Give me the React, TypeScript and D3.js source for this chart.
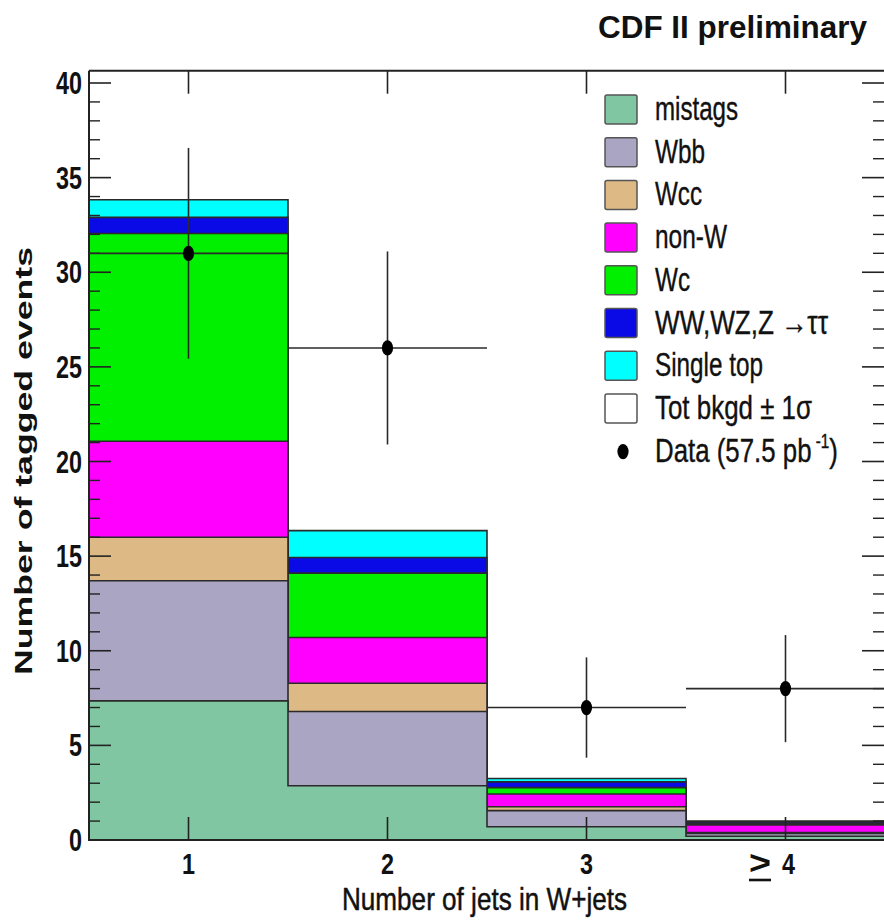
import React from 'react';
import * as d3 from 'd3';

// ---------- data ----------
const categories = ['1', '2', '3', '4'];
const mistags = [7.35, 2.87, 0.7, 0.2];
const wbb = [6.35, 3.92, 0.85, 0.15];
const wcc = [2.3, 1.49, 0.21, 0.05];
const nonW = [5.07, 2.42, 0.67, 0.4];
const wc = [10.98, 3.4, 0.34, 0.08];
const dibosons = [0.85, 0.83, 0.3, 0.08];
const singleTop = [0.93, 1.42, 0.18, 0.04];
const dataValues = [31, 26, 7, 8];
const dataErrors = [5.57, 5.1, 2.65, 2.83];
const yMajorTicks = [0, 5, 10, 15, 20, 25, 30, 35, 40];
const yMinorTicks = d3.range(0, 41).filter((v) => v % 5 !== 0);

const seriesKeys = ['mistags', 'Wbb', 'Wcc', 'nonW', 'Wc', 'diboson', 'singleTop'];
const seriesColors = ['#80c6a2', '#a9a5c2', '#ddb985', '#ff00ff', '#00f000', '#0a0ae6', '#00ffff'];
const legendLabels = ['mistags', 'Wbb', 'Wcc', 'non-W', 'Wc', 'WW,WZ,Z \u2192\u03c4\u03c4', 'Single top', 'Tot bkgd \u00b1 1\u03c3'];
const legendWidths = [83, 50, 47, 72, 35, 173, 108, 157];

const W = 884;
const H = 921;
const FONT = '"Liberation Sans", Arial, Helvetica, sans-serif';

export default function App() {
  const x = d3.scaleLinear().domain([0.5, 4.5]).range([89, 885]);
  const y = d3.scaleLinear().domain([0, 40.65]).range([840, 70.7]);

  const rows = categories.map((c, i) => ({
    cat: c,
    mistags: mistags[i],
    Wbb: wbb[i],
    Wcc: wcc[i],
    nonW: nonW[i],
    Wc: wc[i],
    diboson: dibosons[i],
    singleTop: singleTop[i],
  }));
  const stacked = d3.stack<any>().keys(seriesKeys)(rows);

  const area = d3
    .area<{ e: number; v: number }>()
    .x((d) => x(d.e))
    .y0(y(0))
    .y1((d) => y(d.v))
    .curve(d3.curveStepAfter);

  const layers = stacked.map((s, k) => {
    const tops = s.map((d) => d[1]);
    const pts = d3.range(0, 5).map((i) => ({ e: i + 0.5, v: tops[Math.min(i, 3)] }));
    return { key: seriesKeys[k], color: seriesColors[k], d: area(pts) as string };
  });

  const axisColor = '#222';
  const lineColor = '#2a2a2a';

  const boxTop = (i: number) => 95 + 42.7 * i;

  return (
    <svg width={W} height={H} style={{ position: 'absolute', left: 0, top: 0, background: '#fff' }}>
      <rect x={0} y={0} width={W} height={H} fill="#fff" />

      {/* stacked histograms, drawn largest first (ROOT THStack style) */}
      {layers
        .slice()
        .reverse()
        .map((l) => (
          <path key={l.key} d={l.d} fill={l.color} stroke={lineColor} strokeWidth={1.6} />
        ))}

      {/* frame */}
      <line x1={x(0.5)} x2={x(4.5)} y1={y(40.65)} y2={y(40.65)} stroke={axisColor} strokeWidth={2} />
      <line x1={x(0.5)} x2={x(0.5)} y1={y(40.65)} y2={y(0)} stroke={axisColor} strokeWidth={2} />
      <line x1={x(0.5)} x2={x(4.5)} y1={y(0)} y2={y(0)} stroke={axisColor} strokeWidth={2} />

      {/* y ticks */}
      {yMajorTicks.map((t) => (
        <g key={'M' + t}>
          <line x1={x(0.5)} x2={x(0.5) + 22} y1={y(t)} y2={y(t)} stroke={axisColor} strokeWidth={1.6} />
          <line x1={884} x2={884 - 22} y1={y(t)} y2={y(t)} stroke={axisColor} strokeWidth={1.6} />
          <text
            x={82}
            y={y(t) + 11}
            textAnchor="end"
            fontFamily={FONT}
            fontWeight="bold"
            fontSize={31}
            textLength={String(t).length * 13}
            lengthAdjust="spacingAndGlyphs"
            fill="#111"
          >
            {t}
          </text>
        </g>
      ))}
      {yMinorTicks.map((t) => (
        <g key={'m' + t}>
          <line x1={x(0.5)} x2={x(0.5) + 11} y1={y(t)} y2={y(t)} stroke={axisColor} strokeWidth={1.4} />
          <line x1={884} x2={884 - 11} y1={y(t)} y2={y(t)} stroke={axisColor} strokeWidth={1.4} />
        </g>
      ))}

      {/* x ticks */}
      {categories.map((c, i) => (
        <g key={'xt' + c}>
          <line x1={x(i + 1)} x2={x(i + 1)} y1={y(0)} y2={y(0) - 23} stroke={axisColor} strokeWidth={1.6} />
          <line x1={x(i + 1)} x2={x(i + 1)} y1={y(40.65)} y2={y(40.65) + 23} stroke={axisColor} strokeWidth={1.6} />
        </g>
      ))}
      {categories.slice(0, 3).map((c, i) => (
        <text
          key={'xl' + c}
          x={x(i + 1)}
          y={874}
          textAnchor="middle"
          fontFamily={FONT}
          fontWeight="bold"
          fontSize={30}
          textLength={13}
          lengthAdjust="spacingAndGlyphs"
          fill="#111"
        >
          {c}
        </text>
      ))}
      {/* ">= 4" label, ROOT style */}
      <text x={749} y={874} fontFamily={FONT} fontWeight="bold" fontSize={34} textLength={22} lengthAdjust="spacingAndGlyphs" fill="#111">
        {'>'}
      </text>
      <line x1={749} x2={771} y1={880} y2={880} stroke="#111" strokeWidth={2.6} />
      <text x={782} y={874} fontFamily={FONT} fontWeight="bold" fontSize={30} textLength={13} lengthAdjust="spacingAndGlyphs" fill="#111">
        {categories[3]}
      </text>

      {/* data points */}
      {dataValues.map((v, i) => (
        <g key={'d' + i}>
          <line x1={x(i + 0.5)} x2={x(i + 1.5)} y1={y(v)} y2={y(v)} stroke={lineColor} strokeWidth={1.6} />
          <line
            x1={x(i + 1)}
            x2={x(i + 1)}
            y1={y(v - dataErrors[i])}
            y2={y(v + dataErrors[i])}
            stroke={lineColor}
            strokeWidth={1.6}
          />
          <ellipse cx={x(i + 1)} cy={y(v)} rx={5.6} ry={7.6} fill="#000" />
        </g>
      ))}

      {/* legend */}
      {legendLabels.map((lab, i) => (
        <g key={'lg' + i}>
          <rect
            x={605}
            y={boxTop(i)}
            width={32}
            height={29}
            rx={2}
            fill={i < 7 ? seriesColors[i] : '#fff'}
            stroke="#555"
            strokeWidth={1.5}
          />
          <text
            x={655}
            y={boxTop(i) + 25}
            fontFamily={FONT}
            fontSize={34}
            textLength={legendWidths[i]}
            lengthAdjust="spacingAndGlyphs"
            fill="#111"
            stroke="#111"
            strokeWidth={0.4}
          >
            {lab}
          </text>
        </g>
      ))}
      <ellipse cx={623} cy={boxTop(8) + 15} rx={5.6} ry={7.6} fill="#000" />
      <g transform={`translate(655, ${boxTop(8) + 25}) scale(0.76, 1)`}>
        <text x={0} y={0} fontFamily={FONT} fontSize={34} fill="#111" stroke="#111" strokeWidth={0.4}>
          Data (57.5 pb
          <tspan fontSize={20} dy={-14}> -1</tspan>
          <tspan dy={14}>)</tspan>
        </text>
      </g>

      {/* titles */}
      <text
        x={598}
        y={38}
        fontFamily={FONT}
        fontWeight="bold"
        fontSize={32}
        textLength={269}
        lengthAdjust="spacingAndGlyphs"
        fill="#111"
      >
        CDF II preliminary
      </text>
      <text
        x={342}
        y={910}
        fontFamily={FONT}
        fontSize={32}
        textLength={285}
        lengthAdjust="spacingAndGlyphs"
        fill="#111"
        stroke="#111"
        strokeWidth={0.5}
      >
        Number of jets in W+jets
      </text>
      <text
        transform="translate(32, 461) rotate(-90)"
        x={0}
        y={0}
        textAnchor="middle"
        fontFamily={FONT}
        fontWeight="bold"
        fontSize={24}
        textLength={428}
        lengthAdjust="spacingAndGlyphs"
        fill="#111"
      >
        Number of tagged events
      </text>
    </svg>
  );
}
